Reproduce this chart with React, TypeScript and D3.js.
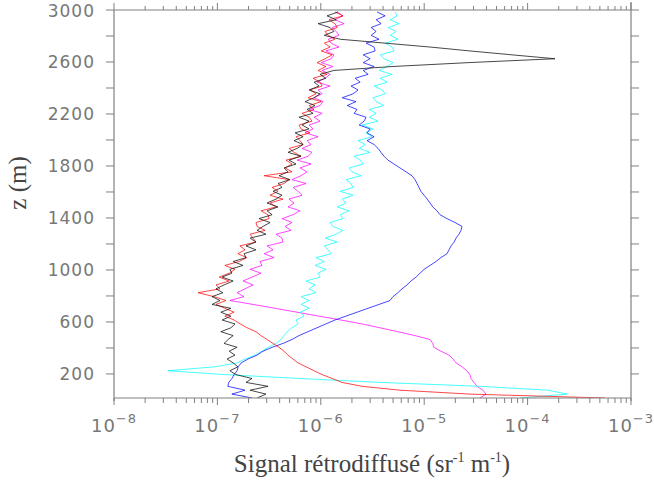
import React from 'react';
import * as d3 from 'd3';

// altitude grid (m), one value every 30 m from 15 m upward
const altitudes: number[] = d3.range(15, 3000, 30);

// backscatter profiles (sr-1 m-1), bottom to top
const black = [
  2.42e-7, 2.95e-7, 2.07e-7, 3.09e-7, 1.89e-7, 2.16e-7, 1.51e-7, 1.32e-7, 1.58e-7, 1.42e-7,
  1.24e-7, 1.48e-7, 1.3e-7, 1.55e-7, 1.16e-7, 1.27e-7, 1.42e-7, 1.08e-7, 1.35e-7, 1.48e-7,
  1.11e-7, 1.35e-7, 1.08e-7, 1.35e-7, 8.87e-8, 1.06e-7, 8.87e-8, 1.13e-7, 9.69e-8, 1.16e-7,
  1.42e-7, 1.11e-7, 1.38e-7, 1.32e-7, 1.77e-7, 1.42e-7, 1.89e-7, 1.81e-7, 2.36e-7, 1.89e-7,
  2.36e-7, 2.07e-7, 2.95e-7, 2.42e-7, 2.76e-7, 3.23e-7, 2.53e-7, 3.38e-7, 3.02e-7, 3.86e-7,
  3.02e-7, 3.69e-7, 4.22e-7, 3.45e-7, 4.22e-7, 3.86e-7, 5.04e-7, 3.95e-7, 4.82e-7, 4.41e-7,
  5.76e-7, 4.93e-7, 6.44e-7, 4.82e-7, 5.89e-7, 6.74e-7, 5.51e-7, 6.74e-7, 5.64e-7, 7.7e-7,
  6.59e-7, 7.7e-7, 6.16e-7, 8.42e-7, 7.36e-7, 8.8e-7, 7.04e-7, 8.61e-7, 9.84e-7, 7.7e-7,
  9.62e-7, 8.61e-7, 1.12e-6, 9.84e-7, 1.34e-6, 4.89e-6, 2.65e-5, 1.84e-4, 7.07e-5, 2.77e-5,
  1.14e-5, 4.19e-6, 1.54e-6, 1.08e-6, 1.34e-6, 1.23e-6, 9.41e-7, 1.41e-6, 1.15e-6, 1.47e-6,
];

const red = [
  5.6e-4, 2.77e-5, 5.83e-6, 2.5e-6, 1.6e-6, 1.29e-6, 1.03e-6, 8.59e-7, 7.19e-7, 6.01e-7,
  5.38e-7, 4.81e-7, 4.41e-7, 3.94e-7, 3.45e-7, 3.02e-7, 2.64e-7, 2.36e-7, 1.94e-7, 1.66e-7,
  1.45e-7, 1.18e-7, 1.45e-7, 1.18e-7, 9.69e-8, 1.21e-7, 9.27e-8, 6.5e-8, 1.06e-7, 9.69e-8,
  1.3e-7, 1.04e-7, 1.3e-7, 1.48e-7, 1.18e-7, 1.62e-7, 1.93e-7, 1.58e-7, 1.85e-7, 1.65e-7,
  2.36e-7, 2.21e-7, 2.07e-7, 2.89e-7, 2.42e-7, 2.36e-7, 3.16e-7, 3.09e-7, 2.64e-7, 3.69e-7,
  3.23e-7, 4.31e-7, 3.23e-7, 3.86e-7, 3.38e-7, 4.41e-7, 4.93e-7, 2.83e-7, 5.27e-7, 4.51e-7,
  5.27e-7, 4.61e-7, 6.44e-7, 5.51e-7, 4.93e-7, 6.74e-7, 6.3e-7, 5.76e-7, 7.87e-7, 6.44e-7,
  6.16e-7, 8.23e-7, 7.7e-7, 6.59e-7, 8.61e-7, 7.7e-7, 1.01e-6, 7.53e-7, 9.0e-7, 7.87e-7,
  1.03e-6, 9.84e-7, 8.42e-7, 1.15e-6, 9.41e-7, 1.12e-6, 9.2e-7, 1.1e-6, 1.29e-6, 1.01e-6,
  1.23e-6, 1.08e-6, 1.37e-6, 1.18e-6, 1.1e-6, 1.44e-6, 1.37e-6, 1.2e-6, 1.64e-6, 1.37e-6,
];

const magenta = [
  3.46e-5, 3.96e-5, 3.7e-5, 3.24e-5, 3.03e-5, 2.83e-5, 2.77e-5, 2.59e-5, 2.32e-5, 2.03e-5,
  1.9e-5, 1.74e-5, 1.45e-5, 1.24e-5, 1.21e-5, 1.14e-5, 8.15e-6, 5.57e-6, 3.74e-6, 2.5e-6,
  1.56e-6, 9.6e-7, 5.89e-7, 3.61e-7, 2.21e-7, 1.32e-7, 1.81e-7, 1.55e-7, 1.85e-7, 2.21e-7,
  1.77e-7, 2.16e-7, 2.64e-7, 2.07e-7, 2.7e-7, 2.58e-7, 3.53e-7, 2.83e-7, 3.45e-7, 3.02e-7,
  4.31e-7, 4.22e-7, 3.69e-7, 5.16e-7, 4.51e-7, 5.27e-7, 4.22e-7, 5.39e-7, 6.3e-7, 4.82e-7,
  5.51e-7, 4.93e-7, 6.59e-7, 6.03e-7, 5.39e-7, 7.2e-7, 5.27e-7, 6.44e-7, 7.36e-7, 6.3e-7,
  8.05e-7, 5.89e-7, 7.53e-7, 8.23e-7, 6.59e-7, 8.05e-7, 7.36e-7, 9.41e-7, 7.04e-7, 8.42e-7,
  7.7e-7, 9.84e-7, 8.61e-7, 1.03e-6, 7.7e-7, 9.84e-7, 1.05e-6, 8.61e-7, 1.03e-6, 9.41e-7,
  1.23e-6, 9.2e-7, 1.1e-6, 1.23e-6, 1.03e-6, 1.31e-6, 1.01e-6, 1.26e-6, 1.34e-6, 1.12e-6,
  1.5e-6, 1.26e-6, 1.18e-6, 1.5e-6, 1.41e-6, 1.29e-6, 1.68e-6, 1.37e-6, 1.64e-6, 1.44e-6,
];

const cyan = [
  8.44e-5, 2.41e-4, 1.58e-4, 3.46e-5, 3.74e-6, 6.29e-7, 1.18e-7, 3.33e-8, 9.5e-8, 1.55e-7,
  1.85e-7, 2.31e-7, 2.7e-7, 3.09e-7, 3.69e-7, 4.12e-7, 4.41e-7, 4.72e-7, 5.26e-7, 6.03e-7,
  5.76e-7, 6.89e-7, 6.3e-7, 7.7e-7, 6.44e-7, 7.7e-7, 6.44e-7, 9.0e-7, 7.7e-7, 8.8e-7,
  7.2e-7, 9.84e-7, 9.41e-7, 1.12e-6, 8.8e-7, 1.08e-6, 9.0e-7, 1.26e-6, 1.18e-6, 1.08e-6,
  1.44e-6, 1.1e-6, 1.41e-6, 1.64e-6, 1.31e-6, 1.23e-6, 1.64e-6, 1.54e-6, 1.88e-6, 1.44e-6,
  1.76e-6, 1.61e-6, 2.05e-6, 1.54e-6, 2.05e-6, 1.96e-6, 1.76e-6, 2.45e-6, 2.01e-6, 1.88e-6,
  2.57e-6, 2.4e-6, 2.1e-6, 3.0e-6, 2.35e-6, 2.68e-6, 2.29e-6, 3.13e-6, 2.74e-6, 3.2e-6,
  2.51e-6, 3.58e-6, 2.93e-6, 3.43e-6, 2.93e-6, 4.09e-6, 3.43e-6, 3.2e-6, 4.19e-6, 3.92e-6,
  3.28e-6, 4.38e-6, 3.75e-6, 4.89e-6, 3.66e-6, 4.38e-6, 5.0e-6, 4.09e-6, 3.75e-6, 5.11e-6,
  4.89e-6, 4.19e-6, 5.59e-6, 4.68e-6, 5.35e-6, 4.48e-6, 5.72e-6, 4.68e-6, 5.47e-6, 5.23e-6,
];

const blue = [
  2.17e-7, 1.38e-7, 1.85e-7, 1.26e-7, 1.29e-7, 1.38e-7, 1.45e-7, 1.55e-7, 1.59e-7, 1.7e-7,
  1.98e-7, 2.42e-7, 2.76e-7, 3.38e-7, 4.31e-7, 5.26e-7, 6.15e-7, 7.51e-7, 9.18e-7, 1.12e-6,
  1.37e-6, 1.75e-6, 2.24e-6, 2.86e-6, 3.66e-6, 4.67e-6, 4.99e-6, 5.57e-6, 6.1e-6, 6.82e-6,
  7.45e-6, 8.33e-6, 9.1e-6, 9.98e-6, 1.14e-5, 1.3e-5, 1.45e-5, 1.66e-5, 1.74e-5, 1.82e-5,
  1.95e-5, 2.03e-5, 2.17e-5, 2.27e-5, 2.32e-5, 1.99e-5, 1.66e-5, 1.42e-5, 1.33e-5, 1.21e-5,
  1.14e-5, 1.07e-5, 9.98e-6, 9.3e-6, 8.9e-6, 8.52e-6, 8.15e-6, 7.62e-6, 6.67e-6, 5.83e-6,
  5.1e-6, 4.46e-6, 4.09e-6, 3.82e-6, 3.58e-6, 3.28e-6, 2.8e-6, 3.28e-6, 2.8e-6, 3.0e-6,
  2.35e-6, 2.62e-6, 2.74e-6, 2.1e-6, 2.24e-6, 1.8e-6, 2.19e-6, 1.61e-6, 2.05e-6, 2.29e-6,
  1.96e-6, 2.4e-6, 2.15e-6, 2.87e-6, 2.57e-6, 3.28e-6, 2.57e-6, 3.0e-6, 2.57e-6, 3.35e-6,
  3.28e-6, 2.74e-6, 3.66e-6, 3.07e-6, 3.43e-6, 3.07e-6, 3.83e-6, 3.43e-6, 4.19e-6, 3.5e-6,
];

const xDecades = [-8, -7, -6, -5, -4, -3];
const yTickLabels = [200, 600, 1000, 1400, 1800, 2200, 2600, 3000];
const yTicks = d3.range(200, 3001, 200);

const series = [
  { name: 'magenta', color: '#ff00ff', values: magenta },
  { name: 'cyan', color: '#00ffff', values: cyan },
  { name: 'blue', color: '#0000ff', values: blue },
  { name: 'red', color: '#ff0000', values: red },
  { name: 'black', color: '#1a1a1a', values: black },
];

const W = 654;
const H = 481;
const L = 114;
const R = 631;
const T = 10;
const B = 398;
const axisColor = '#808080';
const labelColor = '#777';
const tickFont = '"DejaVu Sans", sans-serif';
const titleFont = '"Liberation Serif", "DejaVu Serif", serif';

export default function App() {
  const x = d3.scaleLog().domain([1e-8, 1e-3]).range([L, R]);
  const y = d3.scaleLinear().domain([15, 3000]).range([B, T]);
  const line = d3
    .line<number>()
    .x((d) => x(d))
    .y((_, i) => y(altitudes[i]));

  const minor: number[] = [];
  for (let e = -8; e < -3; e++) {
    for (let k = 2; k <= 9; k++) minor.push(k * Math.pow(10, e));
  }

  return (
    <svg
      width={W}
      height={H}
      style={{ position: 'absolute', left: 0, top: 0, background: '#fff' }}
    >
      <defs>
        <clipPath id="plotClip">
          <rect x={L} y={T} width={R - L} height={B - T} />
        </clipPath>
      </defs>
      <rect x={0} y={0} width={W} height={H} fill="#fff" />

      <g clipPath="url(#plotClip)">
        {series.map((s) => (
          <path
            key={s.name}
            d={line(s.values) || ''}
            fill="none"
            stroke={s.color}
            strokeWidth={1}
            strokeOpacity={s.name === 'black' ? 0.8 : 0.72}
            strokeLinejoin="round"
          />
        ))}
      </g>

      {/* frame */}
      <g stroke={axisColor} strokeWidth={1.2} fill="none">
        <line x1={L} y1={B} x2={R} y2={B} />
        <line x1={L} y1={T} x2={R} y2={T} />
        <line x1={L} y1={T} x2={L} y2={B + 3} />
        <line x1={R} y1={T - 8} x2={R} y2={B + 3} />
      </g>

      {/* x ticks */}
      <g stroke={axisColor} strokeWidth={1}>
        {xDecades.map((e) => {
          const px = x(Math.pow(10, e));
          return (
            <g key={'M' + e}>
              <line x1={px} y1={B} x2={px} y2={B + 7} />
              <line x1={px} y1={T} x2={px} y2={T - 7} />
            </g>
          );
        })}
        {minor.map((v, i) => {
          const px = x(v);
          return (
            <g key={'m' + i}>
              <line x1={px} y1={B} x2={px} y2={B + 5} />
              <line x1={px} y1={T} x2={px} y2={T - 4} />
            </g>
          );
        })}
      </g>

      {/* y ticks */}
      <g stroke={axisColor} strokeWidth={1}>
        {yTicks.map((t) => (
          <g key={'y' + t}>
            <line x1={L - 8} y1={y(t)} x2={L} y2={y(t)} />
            <line x1={R} y1={y(t)} x2={R + 8} y2={y(t)} />
          </g>
        ))}
      </g>

      {/* x tick labels */}
      <g fill={labelColor} fontFamily={tickFont}>
        {xDecades.map((e) => (
          <text key={'xl' + e} x={x(Math.pow(10, e))} y={432} textAnchor="middle" fontSize={18} letterSpacing={1}>
            10
            <tspan fontSize={13} dy={-9}>
              {'\u2212' + Math.abs(e)}
            </tspan>
          </text>
        ))}
      </g>

      {/* y tick labels */}
      <g fill={labelColor} fontFamily={tickFont} fontSize={17}>
        {yTickLabels.map((t) => (
          <text key={'yl' + t} x={95} y={y(t) + 6.5} textAnchor="end" letterSpacing={1}>
            {t}
          </text>
        ))}
      </g>

      {/* axis titles */}
      <text
        transform="translate(26,183) rotate(-90)"
        textAnchor="middle"
        fontFamily={titleFont}
        fontSize={25}
        fill="#444"
      >
        z (m)
      </text>
      <text x={372} y={472} textAnchor="middle" fontFamily={titleFont} fontSize={25} fill="#444">
        Signal rétrodiffusé (sr
        <tspan fontSize={14} dy={-10}>-1</tspan>
        <tspan dy={10}> m</tspan>
        <tspan fontSize={14} dy={-10}>-1</tspan>
        <tspan dy={10}>)</tspan>
      </text>
    </svg>
  );
}
